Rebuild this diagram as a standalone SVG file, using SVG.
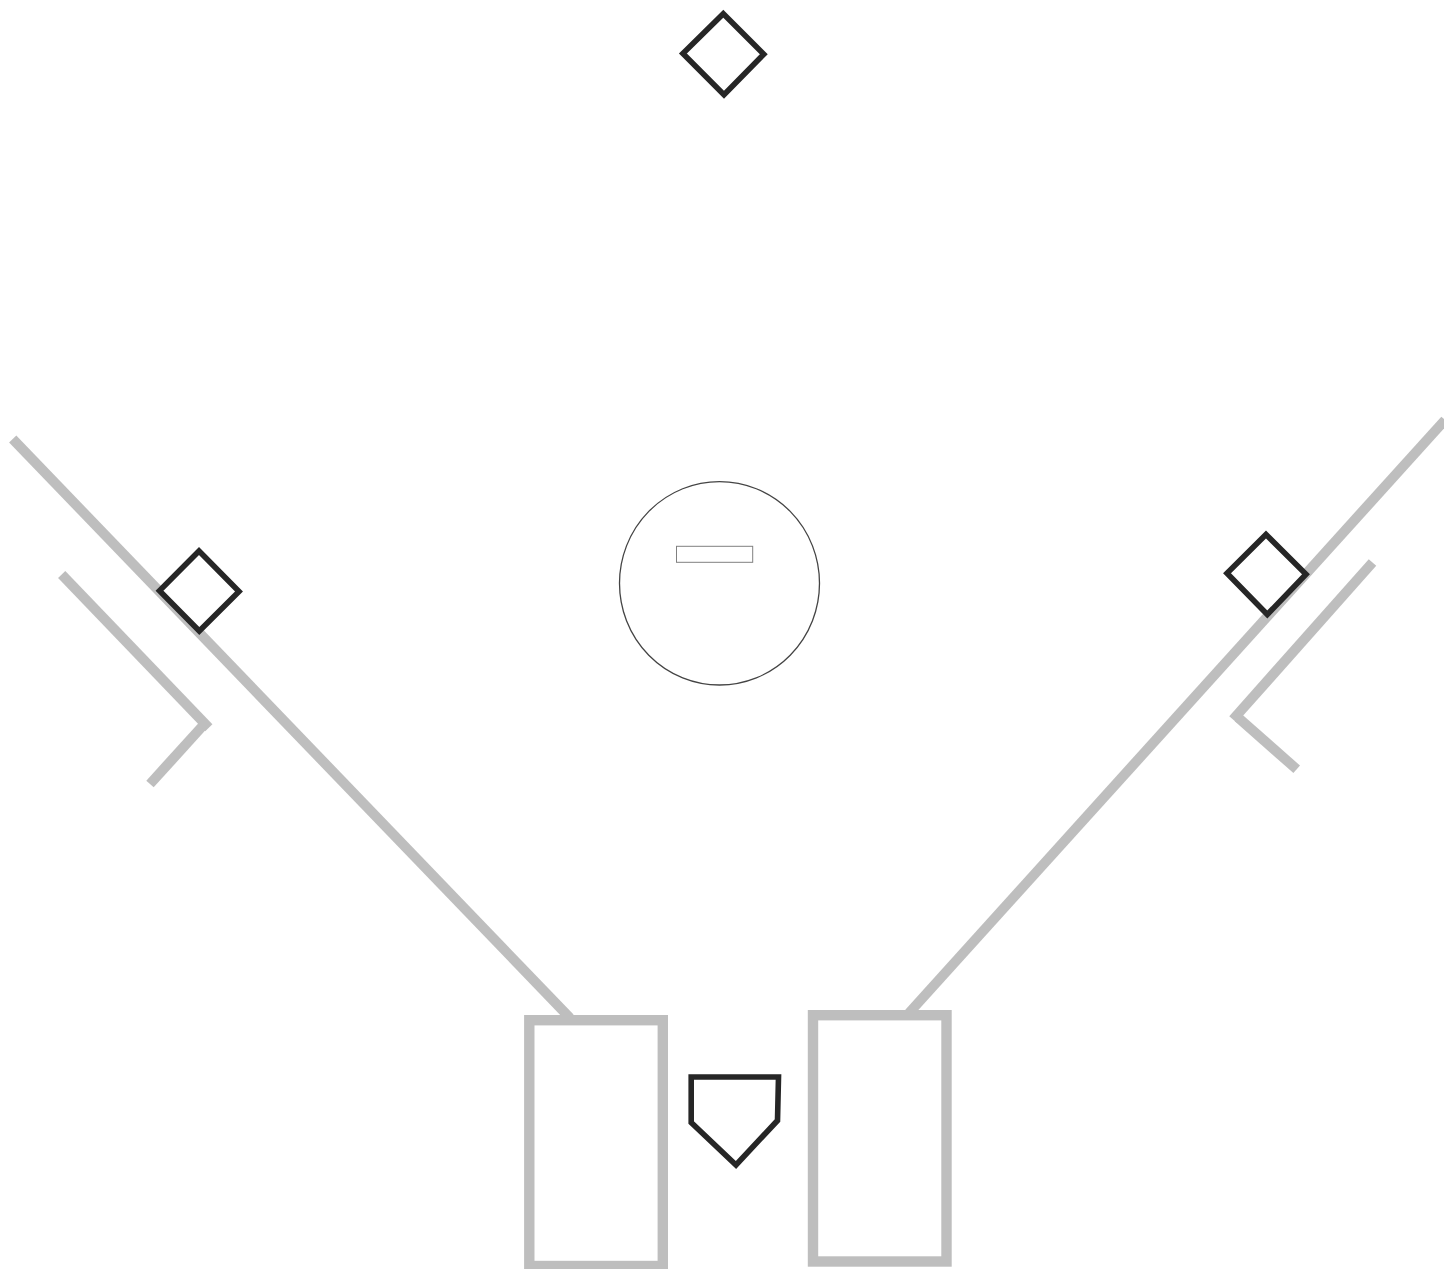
<svg xmlns="http://www.w3.org/2000/svg" width="1444" height="1269" viewBox="0 0 1444 1269">
<style>
.line{fill:none;stroke:#bebebe;stroke-width:10;stroke-linecap:butt}
.box{fill:#fff;stroke:#bebebe;stroke-width:10.4}
.base{fill:#fff;stroke:#262626;stroke-width:5.6;stroke-linejoin:miter;stroke-miterlimit:10}
</style>
<rect width="1444" height="1269" fill="#fff"/>
<g id="connectors">
<line class="line" x1="12.7" y1="439" x2="570" y2="1018"/>
<line class="line" x1="1445" y1="420" x2="909" y2="1013"/>
<line class="line" x1="150" y1="784" x2="203.5" y2="725"/>
<line class="line" x1="61.7" y1="574.5" x2="208.8" y2="727.8"/>
<line class="line" x1="1296.7" y1="769.3" x2="1238" y2="717.5"/>
<line class="line" x1="1372.5" y1="562.5" x2="1233" y2="719.5"/>
</g>
<g id="left-batters-box"><rect class="box" x="529.3" y="1020.2" width="133.5" height="245.8"/></g>
<g id="right-batters-box"><rect class="box" x="813" y="1015.2" width="133.5" height="246.3"/></g>
<g id="home-plate"><polygon class="base" points="691.2,1077 778.5,1077 777.5,1120.5 736,1165 691.2,1122.5"/></g>
<g id="second-base"><polygon class="base" points="723.3,13.7 763.8,54.2 724,94.7 682.9,53.5"/></g>
<g id="third-base"><polygon class="base" points="199,551 239,591.5 199.3,631 159.5,590.8"/></g>
<g id="first-base"><polygon class="base" points="1266,534.5 1306,574.3 1267.3,614.5 1227,573.3"/></g>
<g id="mound">
<ellipse cx="719.5" cy="583.3" rx="100" ry="101.7" fill="#fff" stroke="#444" stroke-width="1.3"/>
<rect x="676.5" y="546.3" width="76.2" height="16" fill="#fff" stroke="#808080" stroke-width="1"/>
</g>
</svg>
